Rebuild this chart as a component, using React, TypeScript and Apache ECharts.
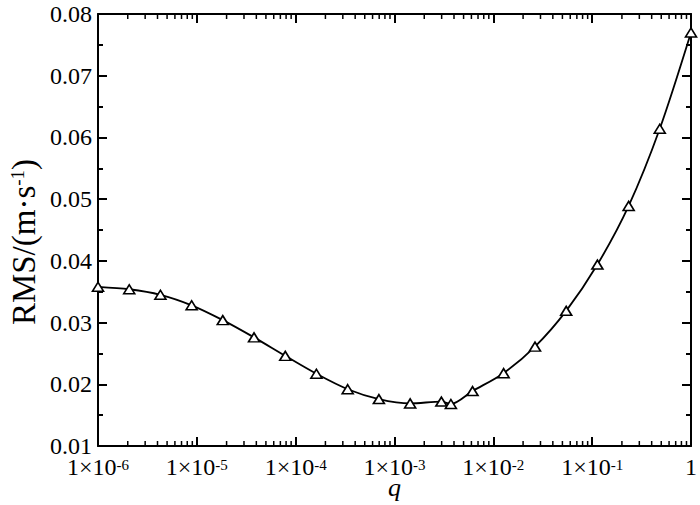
import React, { useEffect, useRef } from "react";
import * as echarts from "echarts";

const qValues = [
  1e-6, 2.07e-6, 4.28e-6, 8.86e-6, 1.83e-5, 3.79e-5, 7.85e-5, 1.62e-4, 3.36e-4,
  6.95e-4, 1.44e-3, 2.98e-3, 3.72e-3, 6.16e-3, 1.27e-2, 2.64e-2, 5.46e-2, 0.113,
  0.234, 0.483, 1,
];
const rmsValues = [
  0.0358, 0.0354, 0.0345, 0.0328, 0.0304, 0.0276, 0.0246, 0.0217, 0.0192,
  0.0176, 0.0169, 0.0172, 0.0168, 0.0189, 0.0218, 0.0261, 0.0319, 0.0394,
  0.0489, 0.0614, 0.077,
];
const minorMultipliers = [2, 3, 4, 5, 6, 7, 8, 9];
const decadeExponents = [-6, -5, -4, -3, -2, -1];
const yMin = 0.01;
const yMax = 0.08;
const yStep = 0.01;
const xMin = 1e-6;
const xMax = 1;
const yTitle = "RMS/(m·s{sup|-1})";
const xTitle = "q";

const FONT = "'Liberation Serif', 'Times New Roman', Times, serif";

export default function App() {
  const ref = useRef<HTMLDivElement>(null);
  useEffect(() => {
    document.body.style.margin = "0";
    if (!ref.current) return;
    const chart = echarts.init(ref.current, null, { renderer: "svg" });

    const minorTicks: number[][] = [];
    decadeExponents.forEach((e) => {
      minorMultipliers.forEach((m) => {
        minorTicks.push([m * Math.pow(10, e), yMin]);
      });
    });

    const xLabel = (v: number) => {
      const e = Math.round(Math.log10(v));
      if (e === 0) return "1";
      return "1×10{sup|" + e + "}";
    };

    const axisLine = { show: true, onZero: false, lineStyle: { color: "#000", width: 2 } };
    const richSup = {
      sup: { fontSize: 15, fontFamily: FONT, color: "#000", verticalAlign: "top" as const, lineHeight: 20 },
    };

    chart.setOption({
      animation: false,
      backgroundColor: "#fff",
      grid: { left: 98, right: 9, top: 14, bottom: 59, containLabel: false, outerBoundsMode: "none" },
      graphic: [
        {
          type: "text",
          x: 24,
          y: 242,
          rotation: Math.PI / 2,
          style: {
            text: yTitle,
            fontFamily: FONT,
            fontSize: 33,
            fill: "#000",
            align: "center",
            verticalAlign: "middle",
            lineHeight: 33,
            rich: {
              sup: { fontSize: 19, fontFamily: FONT, fill: "#000", verticalAlign: "top", lineHeight: 33 },
            },
          },
        },
      ],
      xAxis: [
        {
          type: "log",
          logBase: 10,
          min: xMin,
          max: xMax,
          splitNumber: 6,
          position: "bottom",
          name: xTitle,
          nameLocation: "middle",
          nameGap: 32,
          nameMoveOverlap: false,
          nameTextStyle: { fontFamily: FONT, fontSize: 26, fontStyle: "italic", color: "#000", lineHeight: 18 },
          axisLine,
          axisTick: { show: true, inside: true, length: 9, lineStyle: { color: "#000", width: 2 } },
          minorTick: { show: false },
          splitLine: { show: false },
          axisLabel: {
            margin: 11,
            fontFamily: FONT,
            fontSize: 24,
            color: "#000",
            lineHeight: 20,
            formatter: xLabel,
            rich: richSup,
          },
        },
        {
          type: "log",
          logBase: 10,
          min: xMin,
          max: xMax,
          splitNumber: 6,
          position: "top",
          axisLine,
          axisTick: { show: true, inside: true, length: 9, lineStyle: { color: "#000", width: 2 } },
          splitLine: { show: false },
          axisLabel: { show: false },
        },
      ],
      yAxis: [
        {
          type: "value",
          min: yMin,
          max: yMax,
          interval: yStep,
          position: "left",
          axisLine,
          axisTick: { show: true, inside: true, length: 9, lineStyle: { color: "#000", width: 2 } },
          minorTick: { show: true, splitNumber: 2, length: 5, lineStyle: { color: "#000", width: 2 } },
          splitLine: { show: false },
          minorSplitLine: { show: false },
          axisLabel: {
            margin: 6,
            fontFamily: FONT,
            fontSize: 24,
            lineHeight: 20,
            color: "#000",
            formatter: (v: number) => v.toFixed(2),
          },
        },
        {
          type: "value",
          min: yMin,
          max: yMax,
          interval: yStep,
          position: "right",
          axisLine,
          axisTick: { show: true, inside: true, length: 9, lineStyle: { color: "#000", width: 2 } },
          minorTick: { show: true, splitNumber: 2, length: 5, lineStyle: { color: "#000", width: 2 } },
          splitLine: { show: false },
          axisLabel: { show: false },
        },
      ],
      series: [
        {
          type: "custom",
          xAxisIndex: 0,
          yAxisIndex: 0,
          silent: true,
          data: minorTicks,
          encode: { x: 0, y: 1 },
          renderItem: (params: any, api: any) => {
            const x = api.coord([api.value(0), yMin])[0];
            const cs = params.coordSys;
            const bottom = cs.y + cs.height;
            const top = cs.y;
            const st = { stroke: "#000", lineWidth: 1.5 };
            return {
              type: "group",
              children: [
                { type: "line", shape: { x1: x, y1: bottom, x2: x, y2: bottom - 5 }, style: st },
                { type: "line", shape: { x1: x, y1: top, x2: x, y2: top + 5 }, style: st },
              ],
            };
          },
        },
        {
          type: "line",
          xAxisIndex: 0,
          yAxisIndex: 0,
          data: qValues.map((q, i) => [q, rmsValues[i]]),
          smooth: 0.3,
          symbol: "triangle",
          symbolSize: [11, 9],
          showAllSymbol: true,
          lineStyle: { color: "#000", width: 1.8 },
          itemStyle: { color: "#fff", borderColor: "#000", borderWidth: 1.6 },
          z: 5,
        },
      ],
    });
    return () => chart.dispose();
  }, []);
  return <div ref={ref} style={{ width: 700, height: 505 }} />;
}
